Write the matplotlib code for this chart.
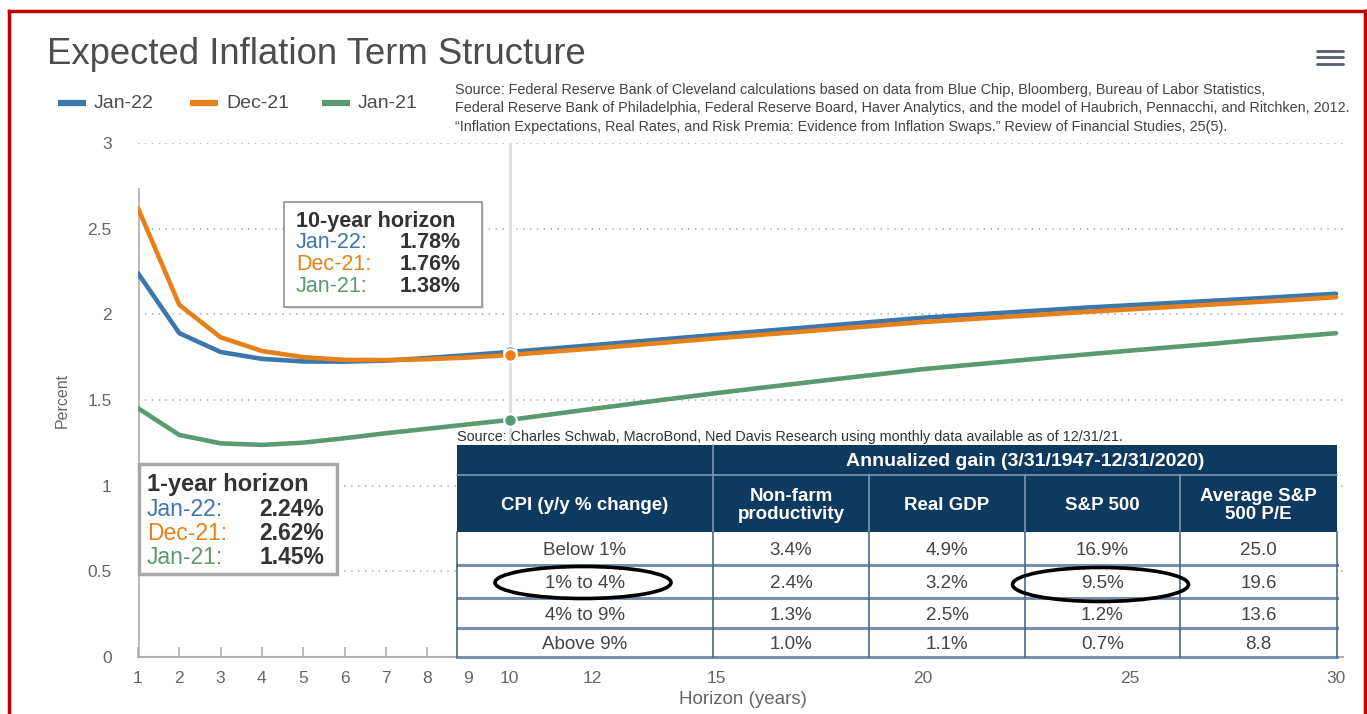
import matplotlib
matplotlib.use("Agg")
import matplotlib.pyplot as plt
from matplotlib.patches import Rectangle, Ellipse

# ---------------- data ----------------
horizon = list(range(1, 31))
jan22 = [2.24, 1.89, 1.78, 1.74, 1.725, 1.724, 1.73, 1.745, 1.762, 1.78,
         1.80, 1.82, 1.84, 1.86, 1.88, 1.90, 1.92, 1.94, 1.96, 1.98,
         1.995, 2.01, 2.025, 2.04, 2.053, 2.066, 2.079, 2.092, 2.106, 2.12]
dec21 = [2.62, 2.055, 1.866, 1.786, 1.75, 1.734, 1.733, 1.738, 1.748, 1.763,
         1.782, 1.80, 1.82, 1.84, 1.86, 1.879, 1.898, 1.917, 1.936, 1.955,
         1.97, 1.985, 2.0, 2.015, 2.029, 2.043, 2.057, 2.071, 2.085, 2.10]
jan21 = [1.452, 1.296, 1.247, 1.238, 1.251, 1.277, 1.306, 1.332, 1.358, 1.384,
         1.416, 1.448, 1.479, 1.51, 1.54, 1.569, 1.597, 1.625, 1.652, 1.68,
         1.702, 1.724, 1.746, 1.767, 1.788, 1.808, 1.828, 1.85, 1.87, 1.89]
series_names = ["Jan-22", "Dec-21", "Jan-21"]
series_colors = ["#3b77ad", "#e8801a", "#5b9a70"]
x_ticks = [1, 2, 3, 4, 5, 6, 7, 8, 9, 10, 12, 15, 20, 25, 30]
y_ticks = [0, 0.5, 1, 1.5, 2, 2.5, 3]
hover_year = 10

title = "Expected Inflation Term Structure"
source_lines = [
    "Source: Federal Reserve Bank of Cleveland calculations based on data from Blue Chip, Bloomberg, Bureau of Labor Statistics,",
    "Federal Reserve Bank of Philadelphia, Federal Reserve Board, Haver Analytics, and the model of Haubrich, Pennacchi, and Ritchken, 2012.",
    "\u201cInflation Expectations, Real Rates, and Risk Premia: Evidence from Inflation Swaps.\u201d Review of Financial Studies, 25(5).",
]

table_source = "Source: Charles Schwab, MacroBond, Ned Davis Research using monthly data available as of 12/31/21."
table_group = "Annualized gain (3/31/1947-12/31/2020)"
table_cols = ["CPI (y/y % change)", "Non-farm\nproductivity", "Real GDP", "S&P 500", "Average S&P\n500 P/E"]
cpi_rows = ["Below 1%", "1% to 4%", "4% to 9%", "Above 9%"]
productivity = ["3.4%", "2.4%", "1.3%", "1.0%"]
real_gdp = ["4.9%", "3.2%", "2.5%", "1.1%"]
sp500 = ["16.9%", "9.5%", "1.2%", "0.7%"]
avg_pe = ["25.0", "19.6", "13.6", "8.8"]
highlight_row = 1

# ---------------- layout ----------------
W, H = 1367, 714
fig = plt.figure(figsize=(W / 100, H / 100), dpi=100)
fig.patch.set_facecolor("white")

SANS = ["Liberation Sans", "DejaVu Sans"]

px_per_year = (1336 - 138) / 29.0
ax = fig.add_axes([138 / W, 1 - 657 / H, (1343 - 138) / W, (657 - 143) / H])
ax.set_xlim(1, 1 + (1343 - 138) / px_per_year)
ax.set_ylim(0, 3)
for s in ["top", "right", "left"]:
    ax.spines[s].set_visible(False)
ax.spines["bottom"].set_color("#b0b0b0")
ax.spines["bottom"].set_linewidth(1.5)

for yv in y_ticks[1:]:
    ax.axhline(yv, color="#a8a8a8", lw=1.1, ls=(0, (1, 3.5)), zorder=1)

ax.axvline(hover_year, color="#dddddd", lw=2, zorder=1)
ax.axvline(horizon[0], ymax=2.73 / 3, color="#b8b8b8", lw=2, zorder=1)

for vals, col in zip([jan22, dec21, jan21], series_colors):
    ax.plot(horizon, vals, color=col, lw=3.3, solid_joinstyle="round",
            solid_capstyle="round", zorder=3)
hi = horizon.index(hover_year)
for vals, col in zip([jan22, dec21, jan21], series_colors):
    ax.plot([horizon[hi]], [vals[hi]], "o", ms=9, color=col, mec="white", mew=1.5, zorder=4)

ax.set_xticks(x_ticks)
ax.set_xticklabels([str(t) for t in x_ticks], family=SANS, fontsize=12.5, color="#666666")
ax.set_yticks(y_ticks)
ax.set_yticklabels([f"{t:g}" for t in y_ticks], family=SANS, fontsize=12.5, color="#666666")
ax.tick_params(axis="x", direction="in", length=7, width=1.2, color="#b0b0b0", pad=10)
ax.tick_params(axis="y", length=0, pad=19)

# ---------------- overlay (pixel coords) ----------------
ov = fig.add_axes([0, 0, 1, 1], zorder=5)
ov.set_xlim(0, W)
ov.set_ylim(H, 0)
ov.axis("off")
ov.patch.set_alpha(0)

ov.text(47, 55, title, family=SANS, fontsize=26.3, color="#4d4d4d", va="center", ha="left")
ov.text(62, 400, "Percent", family=SANS, fontsize=11.5, color="#666666",
        rotation=90, va="center", ha="center")
ov.text(743, 699, "Horizon (years)", family=SANS, fontsize=13.5, color="#666666",
        va="center", ha="center")

# legend
leg_x = [58, 190, 322]
for lx, name, col in zip(leg_x, series_names, series_colors):
    ov.plot([lx, lx + 28], [103, 103], color=col, lw=4.5, solid_capstyle="butt")
    ov.text(lx + 36, 103, name, family=SANS, fontsize=14, color="#4d4d4d", va="center", ha="left")

for i, (line, yy) in enumerate(zip(source_lines, [90, 108, 127])):
    ov.text(455, yy, line, family=SANS, fontsize=10.4, color="#444444", va="center", ha="left")

# hamburger
for yy in [50.5, 57, 63.5]:
    ov.plot([1317, 1343], [yy, yy], color="#555f6a", lw=2, solid_capstyle="round")

# tooltip 10-year
ov.add_patch(Rectangle((286, 204), 198, 105, fc="#e6e6e6", ec="none", zorder=1))
ov.add_patch(Rectangle((284, 202), 198, 105, fc="white", ec="#999999", lw=1.3, zorder=2))
ov.text(296, 222, f"{hover_year}-year horizon", family=SANS, fontsize=15.5, weight="bold",
        color="#333333", va="center", ha="left", zorder=3)
for k, (name, col, vals) in enumerate(zip(series_names, series_colors, [jan22, dec21, jan21])):
    yy = 243 + k * 22
    ov.text(296, yy, name + ":", family=SANS, fontsize=15.5, color=col, va="center", ha="left", zorder=3)
    ov.text(461, yy, f"{vals[hi]:.2f}%", family=SANS, fontsize=15.5, weight="bold",
            color="#333333", va="center", ha="right", zorder=3)

# tooltip 1-year
ov.add_patch(Rectangle((139, 464), 198, 110, fc="white", ec="#a8a8a8", lw=2.5, zorder=2))
ov.text(147, 484, f"{horizon[0]}-year horizon", family=SANS, fontsize=17, weight="bold",
        color="#333333", va="center", ha="left", zorder=3)
for k, (name, col, vals) in enumerate(zip(series_names, series_colors, [jan22, dec21, jan21])):
    yy = 509 + k * 24.5
    ov.text(147, yy, name + ":", family=SANS, fontsize=16.5, color=col, va="center", ha="left", zorder=3)
    ov.text(324, yy, f"{vals[0]:.2f}%", family=SANS, fontsize=16.5, weight="bold",
            color="#333333", va="center", ha="right", zorder=3)

# ---------------- table ----------------
ov.text(457, 437, table_source, family=SANS, fontsize=10.4, color="#333333",
        va="center", ha="left", zorder=6)
cx = [457, 713, 869, 1025, 1180, 1337]
hy = [445, 475, 532]
ry = [532, 565, 598, 628, 657]
NAVY = "#0e3a60"
ov.add_patch(Rectangle((cx[0], ry[0]), cx[-1] - cx[0], ry[-1] - ry[0], fc="white", ec="none", zorder=5))
ov.add_patch(Rectangle((cx[0], hy[0]), cx[-1] - cx[0], hy[2] - hy[0], fc=NAVY, ec="none", zorder=6))
ov.plot([cx[0], cx[-1]], [hy[1], hy[1]], color="#7f97b2", lw=1.2, zorder=7)
ov.plot([cx[1], cx[1]], [hy[0], hy[2]], color="#7f97b2", lw=1.2, zorder=7)
for xx in cx[2:-1]:
    ov.plot([xx, xx], [hy[1], hy[2]], color="#7f97b2", lw=1.2, zorder=7)
ov.text((cx[1] + cx[-1]) / 2, (hy[0] + hy[1]) / 2 + 1, table_group, family=SANS, fontsize=14,
        weight="bold", color="white", va="center", ha="center", zorder=8)
for j, lab in enumerate(table_cols):
    ov.text((cx[j] + cx[j + 1]) / 2, (hy[1] + hy[2]) / 2 + 2, lab, family=SANS, fontsize=13.5,
            weight="bold", color="white", va="center", ha="center", linespacing=1.15, zorder=8)
for yy in ry[1:]:
    ov.plot([cx[0], cx[-1]], [yy, yy], color="#7890ab", lw=2.2, zorder=7)
for xx in cx:
    ov.plot([xx, xx], [ry[0], ry[-1]], color="#47698c", lw=1.2, zorder=7)
columns = [cpi_rows, productivity, real_gdp, sp500, avg_pe]
for j, col_vals in enumerate(columns):
    for i, v in enumerate(col_vals):
        ov.text((cx[j] + cx[j + 1]) / 2, (ry[i] + ry[i + 1]) / 2 + 2, v, family=SANS,
                fontsize=13.5, color="#444444", va="center", ha="center", zorder=8)

# highlight ellipses
ycen = (ry[highlight_row] + ry[highlight_row + 1]) / 2 + 1
ov.add_patch(Ellipse(((cx[0] + cx[1]) / 2 - 2, ycen), 176, 32, fc="none", ec="black", lw=2.6, zorder=9))
ov.add_patch(Ellipse(((cx[3] + cx[4]) / 2 - 2, ycen + 2), 176, 34, fc="none", ec="black", lw=2.6, zorder=9))

# red frame
ov.plot([9, 9], [H, 11], color="#c00000", lw=2.5, solid_capstyle="projecting", zorder=10)
ov.plot([9, 1365], [11, 11], color="#c00000", lw=2.5, solid_capstyle="projecting", zorder=10)
ov.plot([1365, 1365], [11, H], color="#c00000", lw=2.5, solid_capstyle="projecting", zorder=10)

fig.savefig("out.png", dpi=100, facecolor="white")
